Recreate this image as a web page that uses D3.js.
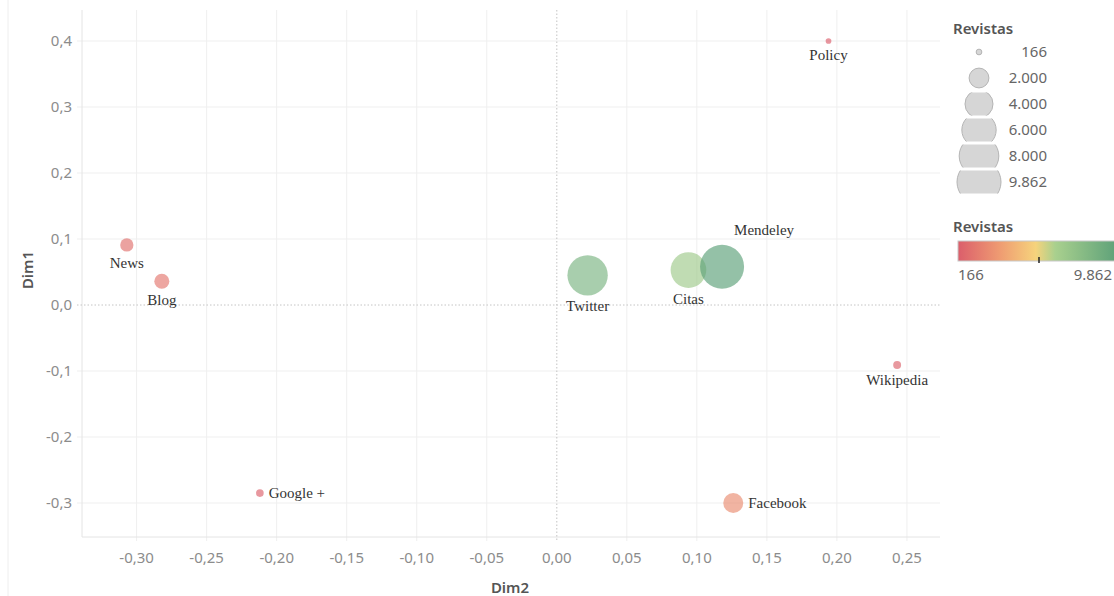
<!DOCTYPE html>
<html>
<head>
<meta charset="utf-8">
<script src="https://cdn.jsdelivr.net/npm/d3@7"></script>
<style>
  body { margin: 0; background: #fff; }
  svg { display: block; }
  .tick-label { font-family: "Noto Sans", sans-serif; font-size: 15px; fill: #8c8c8c; }
  .axis-title { font-family: "Noto Sans", sans-serif; font-size: 15px; font-weight: 600; fill: #555; }
  .point-label { font-family: "Liberation Serif", serif; font-size: 15px; fill: #333; }
  .legend-title { font-family: "Noto Sans", sans-serif; font-size: 15px; font-weight: 600; fill: #555; }
  .legend-label { font-family: "Noto Sans", sans-serif; font-size: 15px; fill: #666; }
</style>
</head>
<body>
<svg id="chart" width="1114" height="596"></svg>
<script>
// data
const channels = ['News', 'Blog', 'Google +', 'Policy', 'Wikipedia', 'Facebook', 'Twitter', 'Citas', 'Mendeley']
const dim2 = [-0.307, -0.282, -0.212, 0.194, 0.243, 0.126, 0.022, 0.094, 0.118]
const dim1 = [0.091, 0.036, -0.285, 0.400, -0.091, -0.300, 0.045, 0.053, 0.058]
const revistas = [900, 1150, 300, 166, 320, 2040, 8300, 6500, 9862]

const xTicks = [-0.30, -0.25, -0.20, -0.15, -0.10, -0.05, 0.00, 0.05, 0.10, 0.15, 0.20, 0.25]
const yTicks = [-0.3, -0.2, -0.1, 0.0, 0.1, 0.2, 0.3, 0.4]
const sizeLegendValues = [166, 2000, 4000, 6000, 8000, 9862]
const colorLegendValues = [166, 9862]

const colorStops = ['#db5e6b', '#ef9c72', '#f6d37c', '#a9d08e', '#5a9f78']
const colorOffsets = [0, 0.26, 0.48, 0.6, 1]

const locale = d3.formatLocale({ decimal: ',', thousands: '.', grouping: [3], currency: ['', ''], minus: '-' })
const fmtX = locale.format('.2f')
const fmtY = locale.format('.1f')
const fmtN = locale.format(',d')

const svg = d3.select('#chart')
const plot = { left: 82, right: 940, top: 10, bottom: 537 }

const x = d3.scaleLinear().domain([-0.339, 0.2736]).range([plot.left, plot.right])
const y = d3.scaleLinear().domain([-0.3515, 0.447]).range([plot.bottom, plot.top])
const r = d3.scaleSqrt().domain([0, 9862]).range([0, 22])

const vMin = d3.min(colorLegendValues)
const vMax = d3.max(colorLegendValues)
const color = d3.scaleLinear()
  .domain(colorOffsets.map(t => vMin + (vMax - vMin) * t))
  .range(colorStops)

// faint pane border on the left
svg.append('line')
  .attr('x1', 8).attr('x2', 8).attr('y1', 0).attr('y2', 596)
  .attr('stroke', '#eeeeee')

// grid
const grid = svg.append('g')
grid.selectAll('.gx')
  .data(xTicks.filter(d => d !== 0))
  .enter().append('line')
  .attr('x1', d => x(d)).attr('x2', d => x(d))
  .attr('y1', plot.top).attr('y2', plot.bottom + 4)
  .attr('stroke', '#efefef')

grid.selectAll('.gy')
  .data(yTicks.filter(d => d !== 0))
  .enter().append('line')
  .attr('x1', plot.left - 5).attr('x2', plot.right)
  .attr('y1', d => y(d)).attr('y2', d => y(d))
  .attr('stroke', '#efefef')

// plot border left / bottom
grid.append('line')
  .attr('x1', plot.left).attr('x2', plot.left)
  .attr('y1', plot.top).attr('y2', plot.bottom)
  .attr('stroke', '#e4e4e4')
grid.append('line')
  .attr('x1', plot.left).attr('x2', plot.right)
  .attr('y1', plot.bottom).attr('y2', plot.bottom)
  .attr('stroke', '#e4e4e4')

// zero lines, dotted
grid.append('line')
  .attr('x1', x(0)).attr('x2', x(0))
  .attr('y1', plot.top).attr('y2', plot.bottom + 4)
  .attr('stroke', '#c4c4c4').attr('stroke-dasharray', '1.5,2')
grid.append('line')
  .attr('x1', plot.left - 5).attr('x2', plot.right)
  .attr('y1', y(0)).attr('y2', y(0))
  .attr('stroke', '#c4c4c4').attr('stroke-dasharray', '1.5,2')

// axis tick labels
svg.append('g').selectAll('text')
  .data(xTicks)
  .enter().append('text')
  .attr('class', 'tick-label')
  .attr('x', d => x(d))
  .attr('y', 563)
  .attr('text-anchor', 'middle')
  .text(fmtX)

svg.append('g').selectAll('text')
  .data(yTicks)
  .enter().append('text')
  .attr('class', 'tick-label')
  .attr('x', 72)
  .attr('y', d => y(d) + 5)
  .attr('text-anchor', 'end')
  .text(fmtY)

svg.append('text')
  .attr('class', 'axis-title')
  .attr('x', 510).attr('y', 593)
  .attr('text-anchor', 'middle')
  .text('Dim2')

svg.append('text')
  .attr('class', 'axis-title')
  .attr('transform', 'translate(33,270) rotate(-90)')
  .attr('text-anchor', 'middle')
  .text('Dim1')

// points
const dataset = channels.map((name, i) => ({ name, dim2: dim2[i], dim1: dim1[i], value: revistas[i] }))

svg.append('g').selectAll('circle')
  .data(dataset)
  .enter().append('circle')
  .attr('cx', d => x(d.dim2))
  .attr('cy', d => y(d.dim1))
  .attr('r', d => r(d.value))
  .attr('fill', d => color(d.value))
  .attr('fill-opacity', 0.65)

// labels: below by default, some to the right
const labelPlacement = { 'Google +': 'right', Facebook: 'right', Mendeley: 'above-right' }

const _labelX = d => {
  const p = labelPlacement[d.name]
  if (p === 'right') return x(d.dim2) + r(d.value) + 5
  if (p === 'above-right') return x(d.dim2) + 42
  return x(d.dim2)
}
const _labelY = d => {
  const p = labelPlacement[d.name]
  if (p === 'right') return y(d.dim1) + 5
  if (p === 'above-right') return y(d.dim1) - r(d.value) - 10
  return y(d.dim1) + r(d.value) + 16
}

svg.append('g').selectAll('text')
  .data(dataset)
  .enter().append('text')
  .attr('class', 'point-label')
  .attr('x', _labelX)
  .attr('y', _labelY)
  .attr('text-anchor', d => labelPlacement[d.name] === 'right' ? 'start' : 'middle')
  .text(d => d.name)

// size legend
const sizeLegend = svg.append('g')
sizeLegend.append('text')
  .attr('class', 'legend-title')
  .attr('x', 953).attr('y', 34)
  .text('Revistas')

const rowH = 26
const clipH = 23
const rowY = i => 52 + i * rowH
const defs = svg.append('defs')
sizeLegendValues.forEach((v, i) => {
  defs.append('clipPath').attr('id', `row${i}`)
    .append('rect')
    .attr('x', 940).attr('y', rowY(i) - clipH / 2)
    .attr('width', 80).attr('height', clipH)
})

const rows = sizeLegend.selectAll('.row')
  .data(sizeLegendValues)
  .enter().append('g')

rows.append('circle')
  .attr('clip-path', (d, i) => `url(#row${i})`)
  .attr('cx', 979)
  .attr('cy', (d, i) => rowY(i))
  .attr('r', d => r(d))
  .attr('fill', '#d6d6d6')
  .attr('stroke', '#b4b4b4')

rows.append('text')
  .attr('class', 'legend-label')
  .attr('x', 1047)
  .attr('y', (d, i) => rowY(i) + 5)
  .attr('text-anchor', 'end')
  .text(fmtN)

// colour legend
const colorLegend = svg.append('g')
colorLegend.append('text')
  .attr('class', 'legend-title')
  .attr('x', 953).attr('y', 232)
  .text('Revistas')

const grad = defs.append('linearGradient').attr('id', 'grad')
colorStops.forEach((c, i) => {
  grad.append('stop')
    .attr('offset', `${colorOffsets[i] * 100}%`)
    .attr('stop-color', c)
})

const bar = { x0: 958, x1: 1120, y: 241, h: 20 }
colorLegend.append('rect')
  .attr('x', bar.x0).attr('y', bar.y)
  .attr('width', bar.x1 - bar.x0).attr('height', bar.h)
  .attr('fill', 'url(#grad)')
  .attr('stroke', '#c8c8c8')

const barScale = d3.scaleLinear().domain([vMin, vMax]).range([bar.x0, bar.x1])
colorLegend.append('line')
  .attr('x1', barScale((vMin + vMax) / 2)).attr('x2', barScale((vMin + vMax) / 2))
  .attr('y1', bar.y + bar.h - 4).attr('y2', bar.y + bar.h + 2)
  .attr('stroke', '#222').attr('stroke-width', 1.5)

colorLegend.selectAll('.cl')
  .data(colorLegendValues)
  .enter().append('text')
  .attr('class', 'legend-label')
  .attr('x', (d, i) => i === 0 ? barScale(d) : 1112)
  .attr('y', 280)
  .attr('text-anchor', (d, i) => i === 0 ? 'start' : 'end')
  .text(fmtN)
</script>
</body>
</html>
